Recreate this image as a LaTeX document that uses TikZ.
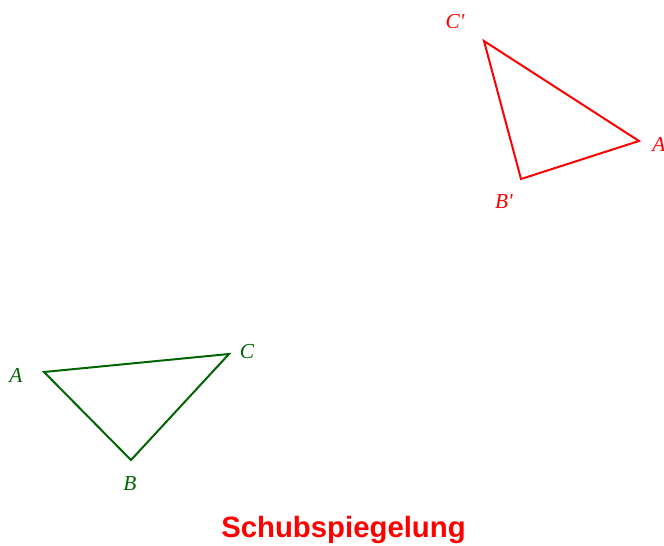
\documentclass[tikz,border=0pt]{standalone}
\usepackage{fontspec}
\setmainfont{Liberation Serif}
\setsansfont{Liberation Sans}
\definecolor{dgreen}{RGB}{0,100,0}
\begin{document}
\begin{tikzpicture}[x=0.75pt,y=-0.75pt,
  green tri/.style={draw=dgreen,line width=1.5pt,line join=miter},
  red tri/.style={draw=red,line width=1.5pt,line join=miter},
  glabel/.style={text=dgreen,font=\itshape\fontsize{16}{16}\selectfont,inner sep=0pt},
  rlabel/.style={text=red,font=\itshape\fontsize{16}{16}\selectfont,inner sep=0pt},
  title/.style={text=red,font=\sffamily\bfseries\fontsize{22}{22}\selectfont,inner sep=0pt,anchor=base}]
\useasboundingbox (0,0) rectangle (664,546);
% green triangle
\coordinate (A) at (44,372);
\coordinate (B) at (131,460);
\coordinate (C) at (229,354);
\draw[green tri] (A) -- (C) -- (B) -- cycle;
\node[glabel] (lA) at (16,375) {A};
\node[glabel] (lB) at (130,484) {B};
\node[glabel] (lC) at (247,352) {C};
% red triangle
\coordinate (A1) at (639,141);
\coordinate (B1) at (521,179);
\coordinate (C1) at (484,41);
\draw[red tri] (C1) -- (A1) -- (B1) -- cycle;
\node[rlabel] (lA1) at (659,144) {A};
\node[rlabel] (lB1) at (504,202) {B\textquotesingle};
\node[rlabel] (lC1) at (455,22) {C\textquotesingle};
% title
\node[title] (t) at (343.5,537) {Schubspiegelung};
\end{tikzpicture}
\end{document}
